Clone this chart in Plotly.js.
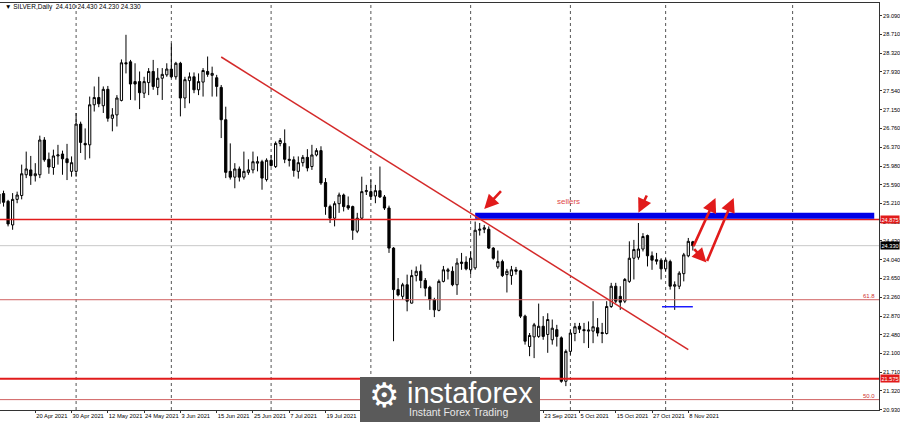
<!DOCTYPE html>
<html>
<head>
<meta charset="utf-8">
<script src="https://cdn.plot.ly/plotly-3.0.1.min.js"></script>
<style>html,body{margin:0;padding:0;background:#fff}#chart{width:900px;height:422px}</style>
</head>
<body>
<div id="chart"></div>
<script>
// ---- data (SILVER, Daily) ----
const dates = [
'2021-04-08','2021-04-09','2021-04-12','2021-04-13','2021-04-14','2021-04-15','2021-04-16','2021-04-19','2021-04-20','2021-04-21',
'2021-04-22','2021-04-23','2021-04-26','2021-04-27','2021-04-28','2021-04-29','2021-04-30','2021-05-03','2021-05-04','2021-05-05',
'2021-05-06','2021-05-07','2021-05-10','2021-05-11','2021-05-12','2021-05-13','2021-05-14','2021-05-17','2021-05-18','2021-05-19',
'2021-05-20','2021-05-21','2021-05-24','2021-05-25','2021-05-26','2021-05-27','2021-05-28','2021-05-31','2021-06-01','2021-06-02',
'2021-06-03','2021-06-04','2021-06-07','2021-06-08','2021-06-09','2021-06-10','2021-06-11','2021-06-14','2021-06-15','2021-06-16',
'2021-06-17','2021-06-18','2021-06-21','2021-06-22','2021-06-23','2021-06-24','2021-06-25','2021-06-28','2021-06-29','2021-06-30',
'2021-07-01','2021-07-02','2021-07-05','2021-07-06','2021-07-07','2021-07-08','2021-07-09','2021-07-12','2021-07-13','2021-07-14',
'2021-07-15','2021-07-16','2021-07-19','2021-07-20','2021-07-21','2021-07-22','2021-07-23','2021-07-26','2021-07-27','2021-07-28',
'2021-07-29','2021-07-30','2021-08-02','2021-08-03','2021-08-04','2021-08-05','2021-08-06','2021-08-09','2021-08-10','2021-08-11',
'2021-08-12','2021-08-13','2021-08-16','2021-08-17','2021-08-18','2021-08-19','2021-08-20','2021-08-23','2021-08-24','2021-08-25',
'2021-08-26','2021-08-27','2021-08-30','2021-08-31','2021-09-01','2021-09-02','2021-09-03','2021-09-06','2021-09-07','2021-09-08',
'2021-09-09','2021-09-10','2021-09-13','2021-09-14','2021-09-15','2021-09-16','2021-09-17','2021-09-20','2021-09-21','2021-09-22',
'2021-09-23','2021-09-24','2021-09-27','2021-09-28','2021-09-29','2021-09-30','2021-10-01','2021-10-04','2021-10-05','2021-10-06',
'2021-10-07','2021-10-08','2021-10-11','2021-10-12','2021-10-13','2021-10-14','2021-10-15','2021-10-18','2021-10-19','2021-10-20',
'2021-10-21','2021-10-22','2021-10-25','2021-10-26','2021-10-27','2021-10-28','2021-10-29','2021-11-01','2021-11-02','2021-11-03',
'2021-11-04','2021-11-05','2021-11-08','2021-11-09'];

const openP = [
25.20,25.41,25.25,24.76,25.29,25.37,25.80,25.90,25.78,25.80,
26.52,26.12,25.95,26.19,26.23,26.13,25.87,25.87,26.85,26.45,
26.42,27.25,27.40,27.23,27.57,26.97,27.04,27.34,28.12,28.14,
27.73,27.73,27.49,27.71,27.94,27.61,27.80,27.87,27.99,27.83,
28.11,27.39,27.75,27.83,27.56,27.72,27.94,27.86,27.81,27.61,
26.94,25.87,25.75,25.92,25.75,25.85,25.90,26.04,26.07,25.70,
26.10,25.97,26.45,26.45,26.12,26.11,25.87,26.05,26.16,25.97,
26.21,26.30,25.64,25.14,24.90,25.20,25.38,25.16,25.14,24.63,
24.90,25.45,25.45,25.36,25.47,25.34,25.11,24.28,23.42,23.28,
23.52,23.14,23.71,23.80,23.61,23.47,23.21,22.99,23.59,23.80,
23.80,23.52,23.96,23.99,23.83,23.87,24.65,24.67,24.67,24.28,
23.89,24.00,23.73,23.71,23.83,23.81,22.87,22.24,22.44,22.45,
22.66,22.49,22.38,22.59,22.42,21.52,22.14,22.51,22.66,22.59,
22.56,22.56,22.63,22.53,22.51,23.07,23.49,23.28,23.18,23.59,
24.07,24.09,24.26,24.54,24.12,24.04,24.03,23.85,24.00,23.49,
23.49,23.75,24.12,24.41];

const highP = [
25.50,25.47,25.28,25.42,25.45,26.01,26.28,26.19,26.04,26.61,
26.58,26.26,26.32,26.42,26.30,26.44,26.18,27.08,26.90,26.76,
27.42,27.63,27.83,27.63,27.64,27.18,27.45,28.19,28.70,28.18,
28.11,27.94,27.83,28.01,28.18,28.01,28.01,28.11,28.52,28.14,
28.14,27.83,27.92,27.92,27.90,28.01,28.25,28.04,27.87,27.66,
27.21,26.45,26.04,25.97,26.28,26.12,26.28,26.18,26.11,26.14,
26.21,26.49,26.56,26.74,26.39,26.18,26.18,26.21,26.33,26.42,
26.35,26.39,25.73,25.18,25.25,25.43,25.41,25.35,25.16,25.01,
25.76,25.59,25.70,25.59,25.97,25.38,25.16,24.30,23.66,23.56,
23.73,23.83,23.90,23.94,23.66,23.50,23.25,23.63,23.91,23.87,
23.90,24.07,24.18,24.11,24.21,24.83,24.80,24.76,24.73,24.30,
24.23,24.04,23.85,23.91,23.89,23.83,22.90,22.52,22.73,23.13,
22.87,22.93,22.80,22.69,22.45,22.18,22.59,22.73,22.73,22.73,
22.76,23.18,22.83,22.73,23.18,23.56,23.56,23.49,23.66,24.42,
24.45,24.80,24.59,24.56,24.21,24.18,24.07,24.07,24.04,23.59,
23.80,24.18,24.49,24.43];

const lowP = [
25.10,25.14,24.73,24.66,25.21,25.29,25.73,25.59,25.66,25.73,
26.07,25.82,25.80,26.01,25.80,25.69,25.76,25.76,26.25,26.11,
26.14,27.11,27.20,27.08,26.90,26.70,26.80,27.32,27.90,27.35,
27.34,27.16,27.39,27.45,27.56,27.45,27.35,27.83,27.80,27.77,
27.01,27.18,27.28,27.49,27.45,27.42,27.83,27.42,27.42,26.56,
25.73,25.70,25.52,25.66,25.70,25.80,25.83,25.87,25.49,25.66,
25.97,25.94,26.39,26.04,25.97,25.76,25.72,25.97,25.87,25.90,
26.18,25.59,24.97,24.80,24.73,25.01,25.04,25.07,24.45,24.59,
24.87,25.38,25.28,25.21,25.32,25.07,24.18,22.35,23.28,23.21,
22.97,23.13,23.59,23.45,23.28,23.00,22.85,22.97,23.57,23.63,
23.49,23.31,23.83,23.82,23.73,23.83,24.54,24.59,24.26,24.04,
23.85,23.68,23.36,23.52,23.73,22.83,22.28,22.04,22.00,22.42,
22.38,22.11,22.28,22.24,21.49,21.42,22.07,22.35,22.52,22.31,
22.21,22.31,22.45,22.31,22.49,23.04,23.14,23.00,23.14,23.56,
23.63,24.04,24.21,23.90,23.83,23.94,23.63,23.80,23.42,23.00,
23.43,23.59,24.09,24.23];

const closeP = [
25.40,25.23,24.78,25.29,25.38,25.82,25.92,25.78,25.82,26.52,
26.11,25.96,26.19,26.21,26.13,26.05,26.05,26.85,26.47,26.42,
27.25,27.40,27.27,27.57,26.97,27.04,27.39,28.12,28.10,27.68,
27.68,27.50,27.73,27.94,27.63,27.80,27.88,27.99,27.83,28.11,
27.39,27.77,27.83,27.56,27.73,27.96,27.88,27.90,27.63,26.94,
25.85,25.75,25.92,25.75,25.87,25.90,26.07,26.07,25.73,26.10,
25.99,26.45,26.51,26.12,26.10,25.89,26.05,26.16,25.94,26.21,
26.30,25.63,25.14,24.90,25.20,25.38,25.14,25.11,24.65,24.90,
25.45,25.47,25.35,25.47,25.34,25.11,24.28,23.42,23.31,23.52,
23.18,23.71,23.80,23.61,23.45,23.21,23.00,23.59,23.83,23.83,
23.52,23.97,23.99,23.85,24.07,24.65,24.67,24.70,24.28,24.07,
24.00,23.71,23.80,23.83,23.80,22.87,22.35,22.47,22.69,22.66,
22.45,22.80,22.62,22.45,21.52,22.14,22.52,22.65,22.60,22.57,
22.58,22.65,22.52,22.51,23.07,23.49,23.18,23.16,23.63,24.07,
24.25,24.26,24.52,24.12,24.03,24.01,23.85,24.03,23.49,23.52,
23.76,24.14,24.42,24.33];

// visible date labels (the ones under the logo plate are hidden in the reference)
const xTickDates  = ['2021-04-08','2021-04-20','2021-04-30','2021-05-12','2021-05-24','2021-06-03','2021-06-15','2021-06-25','2021-07-07','2021-07-19','2021-09-23','2021-10-05','2021-10-15','2021-10-27','2021-11-08'];
const xTickLabels = ['8 Apr 2021','20 Apr 2021','30 Apr 2021','12 May 2021','24 May 2021','3 Jun 2021','15 Jun 2021','25 Jun 2021','7 Jul 2021','19 Jul 2021','23 Sep 2021','5 Oct 2021','15 Oct 2021','27 Oct 2021','8 Nov 2021'];
const monthStarts = ['2021-05-03','2021-06-01','2021-07-01','2021-08-02','2021-09-01','2021-10-01','2021-11-01','2021-12-01'];
const yTickVals = [29.090,28.710,28.320,27.930,27.540,27.150,26.760,26.370,25.980,25.590,25.210,24.820,24.430,24.040,23.650,23.260,22.870,22.480,22.100,21.710,21.320,20.930];

const title = '\u25BC SILVER,Daily  24.410 24.430 24.230 24.330';
const resistance = 24.875;     // red horizontal line
const support = 21.575;        // thick red horizontal line
const fibLevels = [23.21, 21.14];
const fibNames = ['61.8', '50.0'];
const lastPrice = 24.33;
const sellersZone = {from:'2021-09-02', to:'2021-12-19', price:24.95};
const trendline = {from:'2021-06-16', p0:28.24, to:'2021-11-08', p1:22.175};
const swingLow = {from:'2021-11-01', to:'2021-11-09', price:23.065};
// arrows: [tailDate, tailPrice, headDate, headPrice]
const arrows = [
  ['2021-09-10', 25.49, '2021-09-06', 25.09],
  ['2021-10-26', 25.40, '2021-10-22', 25.01],
  ['2021-11-09', 24.29, '2021-11-14', 25.32],
  ['2021-11-09', 24.29, '2021-11-12', 23.98],
  ['2021-11-12', 23.98, '2021-11-18', 25.32]
];
const sellersLabel = {date:'2021-10-01', price:25.24, text:'sellers'};

// ---- helpers: bar index, with calendar-day extrapolation for future dates (MT4 style) ----
const lastIdx = dates.length - 1;
function xi(d){
  const k = dates.indexOf(d);
  if (k >= 0) return k;
  const dd = (Date.parse(d) - Date.parse(dates[lastIdx])) / 86400000;
  return lastIdx + dd;
}
const xIdx = dates.map((d,i)=>i);

const RED = '#e11b1b';
const trace = {
  type:'candlestick', x:xIdx, open:openP, high:highP, low:lowP, close:closeP,
  increasing:{line:{color:'#000000', width:1}, fillcolor:'#ffffff'},
  decreasing:{line:{color:'#000000', width:1}, fillcolor:'#000000'},
  whiskerwidth:0, hoverinfo:'skip', showlegend:false
};

const shapes = [];
monthStarts.forEach(d=>{
  shapes.push({type:'line', xref:'x', yref:'paper', x0:xi(d), x1:xi(d), y0:0, y1:1,
    line:{color:'#555', width:1, dash:'dot'}, layer:'below'});
});
shapes.push({type:'line', xref:'paper', yref:'y', x0:0, x1:1, y0:lastPrice, y1:lastPrice, line:{color:'#c8c8c8', width:1}, layer:'below'});
fibLevels.forEach(v=>{
  shapes.push({type:'line', xref:'paper', yref:'y', x0:0, x1:1, y0:v, y1:v, line:{color:'#d06060', width:1}});
});
shapes.push({type:'line', xref:'paper', yref:'y', x0:0, x1:1, y0:resistance, y1:resistance, line:{color:RED, width:1.5}});
shapes.push({type:'line', xref:'paper', yref:'y', x0:0, x1:1, y0:support, y1:support, line:{color:RED, width:2}});
shapes.push({type:'line', xref:'x', yref:'y', x0:xi(sellersZone.from), x1:xi(sellersZone.to), y0:sellersZone.price, y1:sellersZone.price, line:{color:'#0000e6', width:6}});
shapes.push({type:'line', xref:'x', yref:'y', x0:xi(trendline.from), x1:xi(trendline.to), y0:trendline.p0, y1:trendline.p1, line:{color:'#d42a2a', width:1.5}});
shapes.push({type:'line', xref:'x', yref:'y', x0:xi(swingLow.from)-0.8, x1:xi(swingLow.to), y0:swingLow.price, y1:swingLow.price, line:{color:'#1a1aff', width:1.5}});
// instaforex logo plate
shapes.push({type:'rect', xref:'paper', yref:'paper', x0:360/879, x1:540/879, y0:-0.035, y1:(410-377)/407, fillcolor:'#5a5a5a', line:{width:0}, layer:'above'});

const annotations = [];
annotations.push({xref:'paper', yref:'paper', x:3/879, y:(410-7)/407, xanchor:'left', yanchor:'middle', text:title, showarrow:false, font:{family:'Liberation Sans, Arial', size:6.5, color:'#000'}});
arrows.forEach(a=>{
  annotations.push({xref:'x', yref:'y', axref:'x', ayref:'y', x:xi(a[2]), y:a[3], ax:xi(a[0]), ay:a[1], text:'', showarrow:true, arrowhead:2, arrowsize:1.1, arrowwidth:2.6, arrowcolor:RED, standoff:0, startstandoff:0});
});
annotations.push({xref:'x', yref:'y', x:xi(sellersLabel.date)-0.4, y:sellersLabel.price, text:sellersLabel.text, showarrow:false, font:{family:'Liberation Sans, Arial', size:8, color:'#e04848'}});
fibLevels.forEach((v,k)=>{
  annotations.push({xref:'paper', yref:'y', x:877/879, y:v, xanchor:'right', yanchor:'bottom', text:fibNames[k], showarrow:false, font:{family:'Liberation Sans, Arial', size:6, color:'#d03030'}, yshift:-1});
});
function priceBox(v, bg){
  annotations.push({xref:'paper', yref:'y', x:1, y:v, xanchor:'left', yanchor:'middle', text:v.toFixed(3), showarrow:false, bgcolor:bg, borderpad:0.5, xshift:0.5, font:{family:'Liberation Sans, Arial', size:5.6, color:'#fff'}});
}
priceBox(resistance, RED);
priceBox(support, RED);
priceBox(lastPrice, '#000');
// logo texts
annotations.push({xref:'paper', yref:'paper', x:384/879, y:(410-395)/407, xanchor:'center', yanchor:'middle', text:'\u2699', showarrow:false, font:{family:'DejaVu Sans', size:34, color:'#fff'}});
annotations.push({xref:'paper', yref:'paper', x:405/879, y:(410-393)/407, xanchor:'left', yanchor:'middle', text:'instaforex', showarrow:false, font:{family:'Liberation Sans, Arial', size:29, color:'#fff'}});
annotations.push({xref:'paper', yref:'paper', x:407/879, y:(410-411.5)/407, xanchor:'left', yanchor:'middle', text:'Instant Forex Trading', showarrow:false, font:{family:'Liberation Sans, Arial', size:10.5, color:'#e8e8e8'}});

const layout = {
  width:900, height:422,
  margin:{l:0, r:21, t:3, b:12, pad:0},
  paper_bgcolor:'#fff', plot_bgcolor:'#fff', showlegend:false,
  xaxis:{type:'linear', range:[0.22, 194.05], showgrid:false, zeroline:false,
    showline:true, mirror:true, linecolor:'#333', linewidth:1,
    tickmode:'array', tickvals:xTickDates.map(xi), ticktext:xTickLabels,
    ticks:'outside', ticklen:2, tickcolor:'#333', ticklabelposition:'outside right',
    tickangle:0, automargin:false,
    tickfont:{family:'Liberation Sans, Arial', size:5.8, color:'#000'},
    rangeslider:{visible:false}, fixedrange:true},
  yaxis:{side:'right', range:[20.925, 29.359], showgrid:false, zeroline:false,
    showline:true, linecolor:'#333', linewidth:1, automargin:false,
    tickmode:'array', tickvals:yTickVals, ticktext:yTickVals.map(v=>v.toFixed(3)),
    ticks:'outside', ticklen:2, tickcolor:'#333',
    tickfont:{family:'Liberation Sans, Arial', size:5.6, color:'#000'}, fixedrange:true},
  shapes:shapes, annotations:annotations
};
Plotly.newPlot('chart', [trace], layout, {displayModeBar:false, staticPlot:true});
</script>
</body>
</html>
